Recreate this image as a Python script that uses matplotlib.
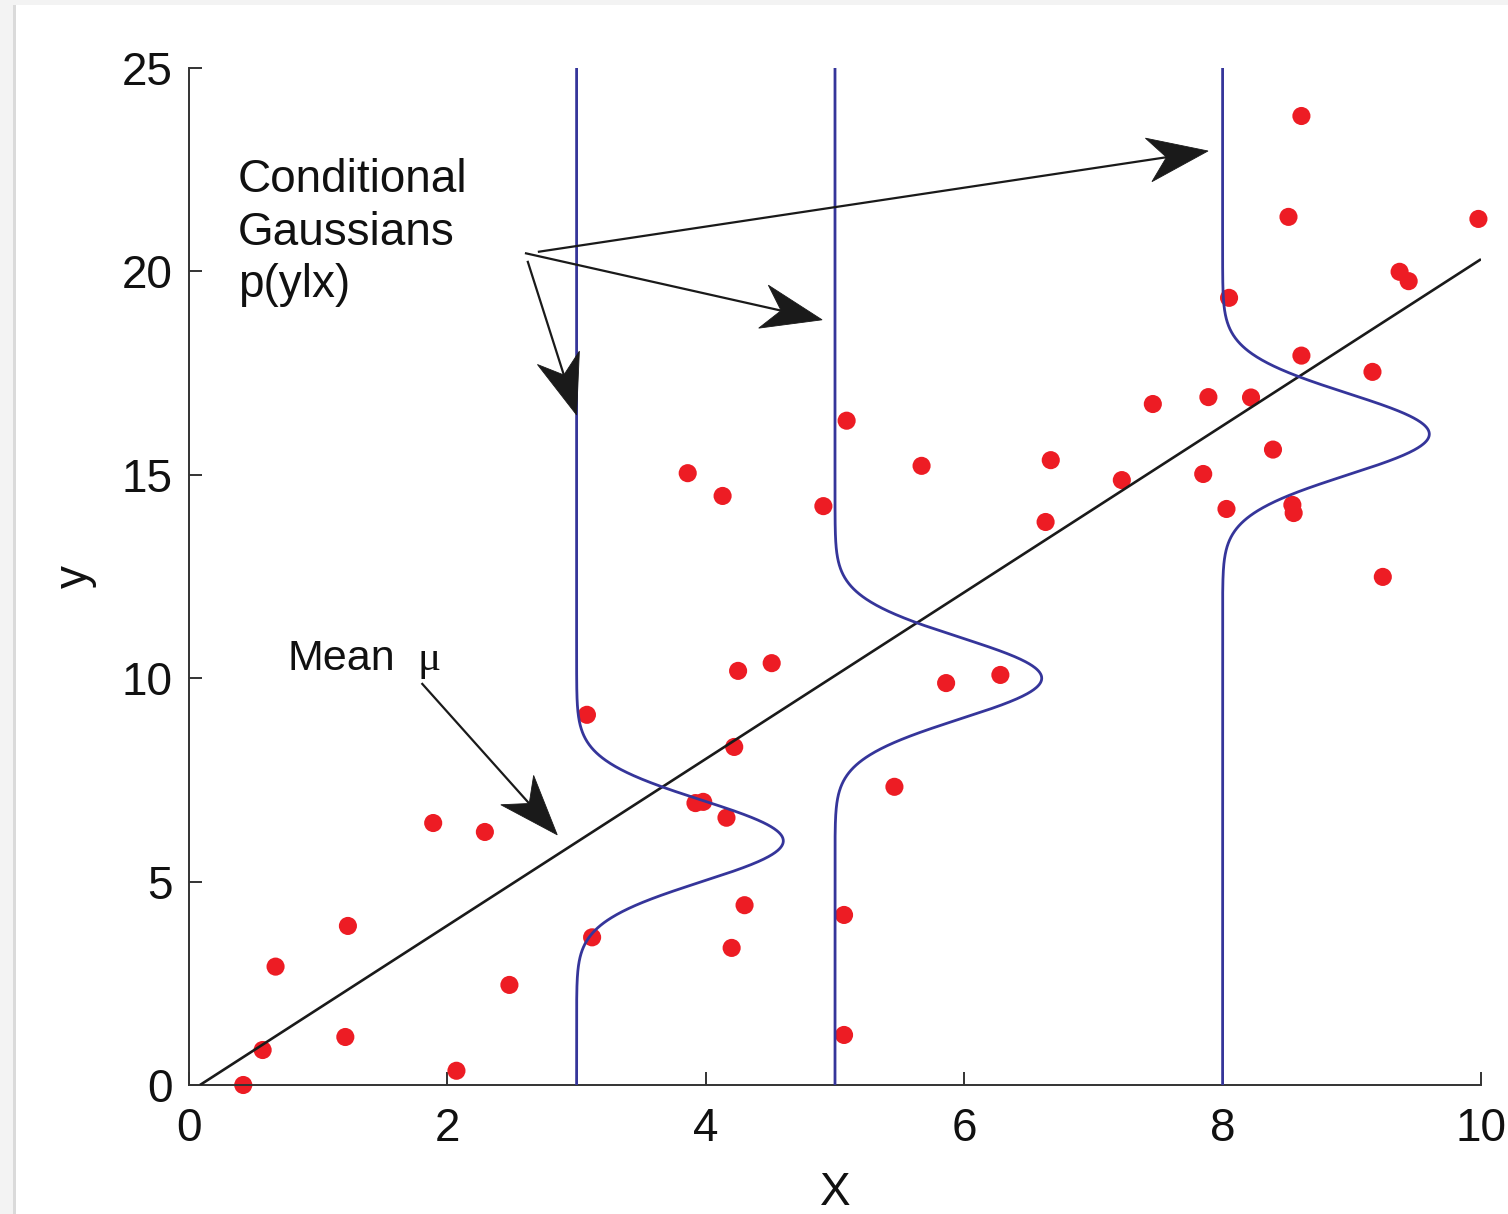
import numpy as np
import matplotlib
matplotlib.use('Agg')
import matplotlib.pyplot as plt
from matplotlib.patches import Polygon, Rectangle

# ---------------- data ----------------
x_pts = [0.42, 0.57, 0.67, 1.23, 1.21, 1.89, 2.07, 2.29, 2.48, 3.08,
         3.12, 3.86, 4.13, 3.92, 3.98, 4.16, 4.22, 4.25, 4.51, 4.30,
         4.20, 4.91, 5.09, 5.07, 5.07, 5.46, 5.67, 5.86, 6.28, 6.63,
         6.67, 7.22, 7.46, 7.89, 7.85, 8.03, 8.05, 8.22, 8.39, 8.51,
         8.61, 8.61, 8.54, 8.55, 9.16, 9.24, 9.37, 9.44, 9.98]
y_pts = [0.00, 0.86, 2.91, 3.91, 1.18, 6.44, 0.35, 6.22, 2.46, 9.10,
         3.63, 15.04, 14.48, 6.93, 6.96, 6.57, 8.31, 10.18, 10.37, 4.42,
         3.37, 14.23, 16.33, 4.18, 1.23, 7.33, 15.22, 9.88, 10.08, 13.84,
         15.36, 14.87, 16.74, 16.91, 15.02, 14.16, 19.35, 16.90, 15.62, 21.34,
         23.82, 17.93, 14.26, 14.06, 17.53, 12.49, 19.99, 19.76, 21.29]

gauss_centers = [3.0, 5.0, 8.0]
gauss_means = [6.0, 10.0, 16.0]
gauss_sigma = 1.0
gauss_amp = 1.6

mean_line_x = [0.085, 10.0]
mean_line_y = [0.0, 20.3]

x_ticks = [0, 2, 4, 6, 8, 10]
y_ticks = [0, 5, 10, 15, 20, 25]

# annotation arrows (start, tip) in data coords
arrow_starts = [(2.70, 20.48), (2.60, 20.45), (2.62, 20.26), (1.80, 9.88)]
arrow_tips = [(7.887, 22.96), (4.90, 18.81), (3.00, 16.47), (2.85, 6.15)]

# ---------------- figure ----------------
W, H, DPI = 1508, 1214, 100
fig = plt.figure(figsize=(W / DPI, H / DPI), dpi=DPI)
fig.patch.set_facecolor('white')

# screenshot-like border
fig.patches.append(Rectangle((0, 0), 14 / W, 1, transform=fig.transFigure,
                             facecolor='#f3f3f3', edgecolor='none', zorder=0))
fig.patches.append(Rectangle((13 / W, 0), 3 / W, 1, transform=fig.transFigure,
                             facecolor='#dadada', edgecolor='none', zorder=0))
fig.patches.append(Rectangle((0, 1 - 5 / H), 1, 5 / H, transform=fig.transFigure,
                             facecolor='#f3f3f3', edgecolor='none', zorder=0))

ax = fig.add_axes([189 / W, 129 / H, 1292 / W, 1017 / H])
ax.set_facecolor('none')
ax.set_xlim(0, 10)
ax.set_ylim(0, 25)

for s in ['top', 'right']:
    ax.spines[s].set_visible(False)
for s in ['left', 'bottom']:
    ax.spines[s].set_color('#333333')
    ax.spines[s].set_linewidth(1.4)

ax.set_xticks(x_ticks)
ax.set_yticks(y_ticks)
ax.set_xticklabels([str(v) for v in x_ticks])
ax.set_yticklabels([str(v) for v in y_ticks])
ax.tick_params(direction='in', length=9.5, width=1.4, color='#333333',
               labelsize=33, labelcolor='#111111')
ax.tick_params(axis='x', pad=16)
ax.tick_params(axis='y', pad=12)
for lab in ax.get_xticklabels() + ax.get_yticklabels():
    lab.set_family('Liberation Sans')

ax.set_xlabel('X', fontsize=33, family='Liberation Sans', color='#111111')
ax.set_ylabel('y', fontsize=33, family='Liberation Sans', color='#111111')
ax.xaxis.set_label_coords(0.5, -0.085)
ax.yaxis.set_label_coords(-0.071, 0.5)

# data points
ax.scatter(x_pts, y_pts, s=170, color='#ed1c24', edgecolors='none',
           zorder=2, clip_on=False)

# mean line
ax.plot(mean_line_x, mean_line_y, color='#1a1a1a', lw=1.9, zorder=3,
        solid_capstyle='butt')

# conditional gaussians
yy = np.linspace(0, 25, 2000)
for xc, mu in zip(gauss_centers, gauss_means):
    xx = xc + gauss_amp * np.exp(-(yy - mu) ** 2 / (2 * gauss_sigma ** 2))
    ax.plot(xx, yy, color='#35359a', lw=2.0, zorder=3)


def notched_arrow(start, tip, L=60, Wd=22, N=42, lw=1.6, color='#1a1a1a'):
    T = ax.transData
    s = T.transform(start)
    t = T.transform(tip)
    d = t - s
    u = d / np.hypot(*d)
    n = np.array([-u[1], u[0]])
    b1 = t - L * u + Wd * n
    b2 = t - L * u - Wd * n
    nb = t - N * u
    inv = T.inverted()
    pts = inv.transform(np.array([t, b1, nb, b2]))
    ax.add_patch(Polygon(pts, closed=True, facecolor=color, edgecolor=color,
                         lw=0.6, clip_on=False, zorder=5))
    se = inv.transform(nb + 4 * u)
    ax.plot([start[0], se[0]], [start[1], se[1]], color=color, lw=lw,
            clip_on=False, zorder=5, solid_capstyle='butt')


for st, tp in zip(arrow_starts, arrow_tips):
    notched_arrow(st, tp)

# text annotations
txt_kw = dict(family='Liberation Sans', color='#111111', va='baseline',
              ha='left', zorder=6)
ax.text(0.38, 21.95, 'Conditional', fontsize=33, **txt_kw)
ax.text(0.38, 20.65, 'Gaussians', fontsize=33, **txt_kw)
ax.text(0.38, 19.37, 'p(ylx)', fontsize=33, **txt_kw)
ax.text(0.76, 10.2, 'Mean', fontsize=31, **txt_kw)
ax.text(1.765, 10.2, '\u03bc', fontsize=31, family='Liberation Serif',
        color='#111111', va='baseline', ha='left', zorder=6)

fig.savefig('out.png', dpi=DPI)
